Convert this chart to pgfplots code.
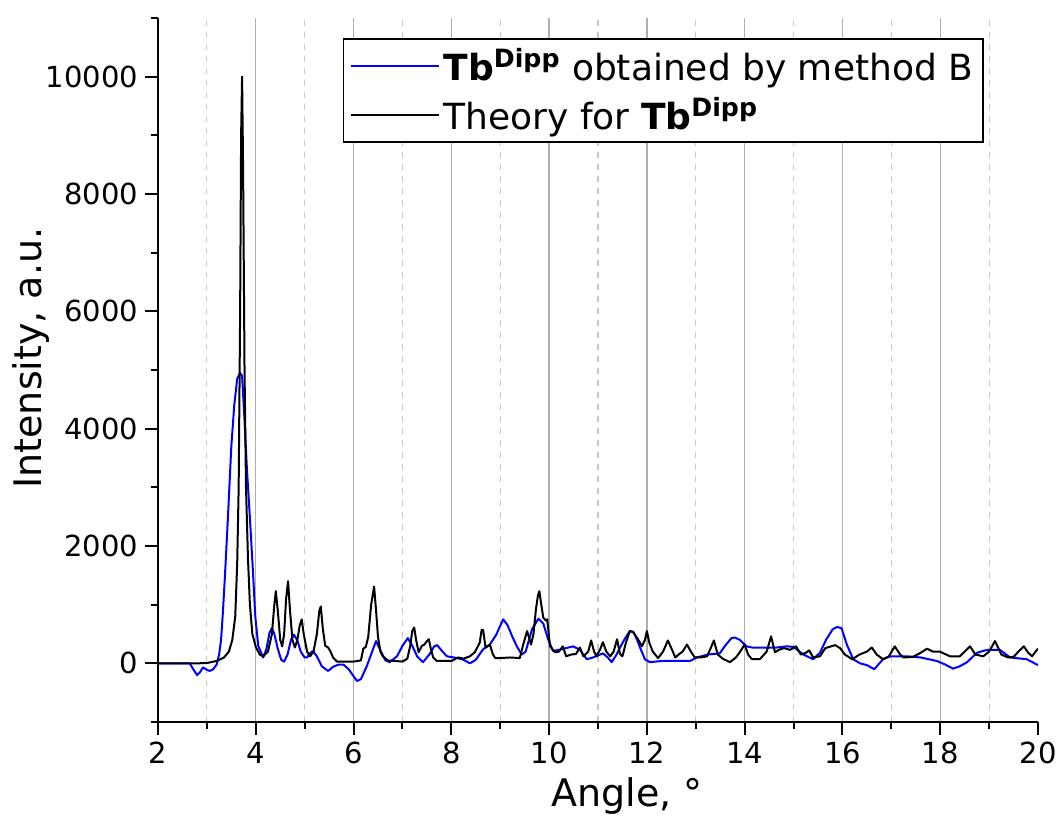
\documentclass[border=0pt]{standalone}
\usepackage{fontspec}
\setmainfont{DejaVu Sans}
\usepackage{pgfplots}
\pgfplotsset{compat=1.18}
\usepackage{pgfplotstable}
\definecolor{gridmaj}{RGB}{175,175,175}
\definecolor{gridmin}{RGB}{200,200,200}

\pgfplotstableread{
x y
2.00 0
2.65 0
2.72 -100
2.80 -200
2.86 -150
2.92 -70
3.00 -110
3.06 -130
3.13 -100
3.20 -20
3.25 150
3.29 400
3.33 900
3.37 1500
3.43 2480
3.50 3700
3.56 4400
3.62 4850
3.68 4950
3.72 4900
3.76 4300
3.82 3300
3.88 2480
3.94 1600
3.99 800
4.05 300
4.15 100
4.22 250
4.28 520
4.33 600
4.38 500
4.45 250
4.52 60
4.58 30
4.65 150
4.72 400
4.78 490
4.85 390
4.92 200
5.00 100
5.05 100
5.12 180
5.17 210
5.25 120
5.35 -50
5.48 -130
5.58 -60
5.70 -20
5.79 -20
5.90 -100
6.00 -220
6.07 -300
6.15 -270
6.27 -50
6.38 200
6.46 380
6.55 220
6.65 50
6.74 20
6.89 120
7.00 300
7.11 430
7.20 300
7.30 120
7.42 20
7.55 150
7.65 290
7.71 310
7.80 220
7.91 120
8.12 90
8.25 60
8.38 0
8.50 60
8.65 240
8.78 310
8.92 490
9.06 750
9.15 650
9.25 450
9.34 290
9.44 150
9.52 200
9.65 580
9.78 760
9.88 680
9.98 410
10.08 210
10.25 240
10.49 290
10.63 230
10.77 70
10.90 100
11.10 170
11.20 100
11.28 20
11.38 150
11.45 270
11.55 420
11.65 550
11.72 540
11.80 400
11.86 270
11.96 70
12.06 20
12.30 40
12.88 40
13.02 100
13.25 150
13.49 170
13.60 300
13.73 430
13.80 440
13.90 400
14.04 290
14.15 270
14.66 270
14.86 290
15.00 280
15.20 150
15.40 70
15.54 180
15.67 410
15.80 580
15.89 620
15.98 600
16.09 320
16.22 70
16.36 0
16.50 -30
16.65 -100
16.83 70
16.98 120
17.32 120
17.60 100
17.93 40
18.10 -20
18.26 -90
18.40 -50
18.55 20
18.75 180
18.96 230
19.22 230
19.43 100
19.77 70
20.00 -30
}\bluedata

\pgfplotstableread{
x y
2.00 0
2.80 0
3.00 5
3.20 40
3.35 100
3.45 200
3.52 400
3.58 800
3.62 1700
3.65 3000
3.68 6000
3.70 9000
3.72 10000
3.74 8500
3.77 5000
3.80 3000
3.84 1800
3.88 1000
3.93 500
4.00 280
4.08 150
4.15 120
4.25 200
4.33 500
4.38 1000
4.41 1230
4.45 900
4.50 400
4.54 290
4.58 500
4.62 1100
4.66 1400
4.70 900
4.75 400
4.80 270
4.85 400
4.90 650
4.94 750
4.98 500
5.05 200
5.11 120
5.18 200
5.25 500
5.30 900
5.33 970
5.37 600
5.42 300
5.48 270
5.53 200
5.58 100
5.66 30
6.00 30
6.15 50
6.20 250
6.25 280
6.30 450
6.36 1000
6.42 1310
6.46 900
6.50 450
6.55 200
6.60 120
6.70 50
7.00 30
7.10 80
7.16 300
7.20 550
7.24 610
7.28 400
7.33 190
7.40 300
7.45 320
7.50 380
7.54 410
7.58 250
7.63 100
7.70 40
8.00 40
8.14 100
8.25 80
8.38 120
8.48 190
8.58 350
8.62 570
8.65 570
8.70 270
8.75 300
8.79 320
8.85 150
8.90 90
9.00 90
9.20 100
9.40 90
9.47 320
9.55 550
9.63 320
9.68 500
9.73 920
9.77 1150
9.80 1230
9.84 1000
9.88 780
9.93 730
9.96 750
10.02 290
10.12 190
10.20 200
10.28 290
10.35 120
10.45 150
10.55 160
10.63 270
10.70 120
10.80 200
10.86 390
10.92 200
10.97 120
11.05 250
11.10 360
11.17 200
11.25 120
11.32 200
11.39 410
11.45 160
11.50 120
11.57 350
11.65 550
11.72 530
11.82 410
11.90 290
11.96 400
12.00 550
12.05 350
12.12 200
12.23 90
12.33 200
12.43 390
12.52 220
12.58 100
12.65 150
12.73 200
12.82 320
12.90 200
12.98 100
13.10 100
13.23 120
13.30 250
13.37 390
13.45 150
13.55 80
13.70 20
13.82 100
13.90 190
14.00 320
14.07 150
14.15 70
14.31 70
14.45 200
14.54 460
14.62 190
14.70 230
14.80 260
14.93 230
15.05 290
15.15 150
15.25 180
15.32 220
15.40 100
15.54 120
15.65 260
15.85 310
15.95 260
16.05 150
16.20 70
16.35 150
16.50 200
16.60 270
16.70 150
16.83 70
16.95 120
17.07 290
17.18 150
17.25 100
17.44 110
17.60 180
17.73 250
17.85 200
17.99 200
18.20 120
18.40 120
18.50 200
18.61 290
18.72 150
18.88 120
19.00 200
19.12 380
19.25 150
19.39 100
19.50 110
19.60 200
19.71 290
19.80 180
19.88 120
19.95 200
20.00 250
}\theorydata

\begin{document}
\begin{tikzpicture}
\useasboundingbox (-79pt,-49pt) rectangle (450.5pt,361pt);
\begin{axis}[
  at={(0,0)}, anchor=south west,
  scale only axis, width=440pt, height=352pt,
  xmin=2, xmax=20, ymin=-1000, ymax=11000,
  axis x line*=bottom, axis y line*=left,
  axis line style={line width=1pt,-},
  xtick={4,6,...,18}, extra x ticks={2,20}, extra x tick style={grid=none},
  minor xtick={3,5,...,19},
  ytick={0,2000,...,10000}, minor ytick={-1000,1000,...,11000},
  scaled y ticks=false,
  tick align=outside, major tick length=6.5pt, minor tick length=3.5pt,
  every tick/.style={line width=1pt, black},
  xmajorgrids, xminorgrids,
  major grid style={gridmaj, line width=0.7pt},
  minor grid style={gridmin, dashed, line width=0.6pt},
  ticklabel style={font=\fontsize{14.5}{16}\selectfont},
  /pgf/number format/assume math mode=true,
  /pgf/number format/1000 sep={},
  xlabel={Angle, °}, ylabel={Intensity, a.u.},
  label style={font=\fontsize{19}{21}\selectfont},
  xlabel style={at={(axis description cs:0.533,-0.105)}, anchor=center},
  ylabel style={at={(axis description cs:-0.144,0.517)}, anchor=center},
  legend style={at={(0.21,0.9716)}, anchor=north west, draw=black, line width=0.8pt,
    font=\fontsize{18}{20}\selectfont, inner sep=3pt, row sep=3pt, cells={anchor=west}},
  legend image code/.code={\draw[#1] (0pt,0pt) -- (44pt,0pt);},
]
\addplot[blue, line width=1pt, line join=round] table {\bluedata};
\addlegendentry{\textbf{Tb}\textsuperscript{\textbf{Dipp}} obtained by method B}
\addplot[black, line width=1pt, line join=round] table {\theorydata};
\addlegendentry{Theory for \textbf{Tb}\textsuperscript{\textbf{Dipp}}}
\end{axis}
\end{tikzpicture}
\end{document}
